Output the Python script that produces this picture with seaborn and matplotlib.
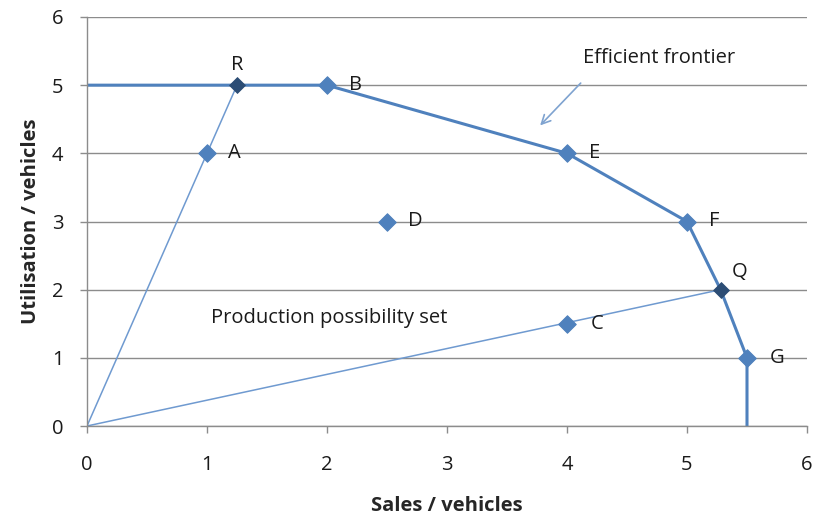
import matplotlib
matplotlib.use("Agg")
import matplotlib.pyplot as plt
import seaborn as sns
import pandas as pd

# Data
frontier_x = [0, 1.25, 2, 4, 5, 5.28, 5.5, 5.5]
frontier_y = [5, 5, 5, 4, 3, 2, 1, 0]
ray_r_x = [0, 1.25]
ray_r_y = [0, 5]
ray_q_x = [0, 5.28]
ray_q_y = [0, 2]
point_names = ["A", "B", "C", "D", "E", "F", "G"]
point_x = [1, 2, 4, 2.5, 4, 5, 5.5]
point_y = [4, 5, 1.5, 3, 4, 3, 1]
proj_names = ["R", "Q"]
proj_x = [1.25, 5.28]
proj_y = [5, 2]

sns.set_theme(style="white")
plt.rcParams['font.family'] = ['Open Sans', 'DejaVu Sans']

fig = plt.figure(figsize=(8.14, 5.17), dpi=100)
ax = fig.add_axes([87/814, 1-426/517, 720/814, 409/517])

blue = "#4F81BD"
dark = "#2C4D75"
txt = "#1A1A1A"
fs = 14.5

sns.lineplot(x=ray_r_x, y=ray_r_y, sort=False, estimator=None, ax=ax, color="#6F9AD0", lw=1.1)
sns.lineplot(x=ray_q_x, y=ray_q_y, sort=False, estimator=None, ax=ax, color="#6F9AD0", lw=1.1)
sns.lineplot(x=frontier_x, y=frontier_y, sort=False, estimator=None, ax=ax, color=blue, lw=2.2)

sns.scatterplot(x=point_x, y=point_y, ax=ax, marker="D", s=80, color=blue, edgecolor=blue, zorder=5)
sns.scatterplot(x=proj_x, y=proj_y, ax=ax, marker="D", s=65, color=dark, edgecolor=dark, zorder=6)

offsets = {"A": (0.23, 0), "B": (0.24, 0), "C": (0.25, 0), "D": (0.24, 0),
           "E": (0.23, 0), "F": (0.23, 0), "G": (0.25, 0)}
for n, x, y in zip(point_names, point_x, point_y):
    dx, dy = offsets[n]
    ax.text(x + dx, y + dy, n, fontsize=fs, ha="center", va="center", color=txt)
ax.text(proj_x[0], proj_y[0] + 0.3, "R", fontsize=fs, ha="center", va="center", color=txt)
ax.text(proj_x[1] + 0.16, proj_y[1] + 0.26, "Q", fontsize=fs, ha="center", va="center", color=txt)

ax.text(4.13, 5.4, "Efficient frontier", fontsize=fs, ha="left", va="center", color=txt)
ax.text(1.03, 1.58, "Production possibility set", fontsize=fs, ha="left", va="center", color=txt)
ax.annotate("", xy=(3.76, 4.38), xytext=(4.13, 5.06),
            arrowprops=dict(arrowstyle="->", color="#7FA3D0", lw=1.2, mutation_scale=16))

ax.set_xlim(0, 6)
ax.set_ylim(0, 6)
ax.set_xticks(range(7))
ax.set_yticks(range(7))
ax.yaxis.grid(True, color="#8C8C8C", lw=1)
ax.xaxis.grid(False)
ax.set_axisbelow(True)
for s in ["top", "right"]:
    ax.spines[s].set_visible(False)
for s in ["left", "bottom"]:
    ax.spines[s].set_color("#8C8C8C")
    ax.spines[s].set_linewidth(1)
ax.tick_params(axis="both", which="both", direction="out", length=5, width=1, color="#8C8C8C",
               labelsize=fs, labelcolor=txt, bottom=True, left=True)
ax.tick_params(axis="x", pad=16)
ax.tick_params(axis="y", pad=12)
ax.set_xlabel("Sales / vehicles", fontsize=fs, fontweight="bold", labelpad=15)
ax.set_ylabel("Utilisation / vehicles", fontsize=fs, fontweight="bold", labelpad=8)

fig.savefig("out.png", dpi=100)
